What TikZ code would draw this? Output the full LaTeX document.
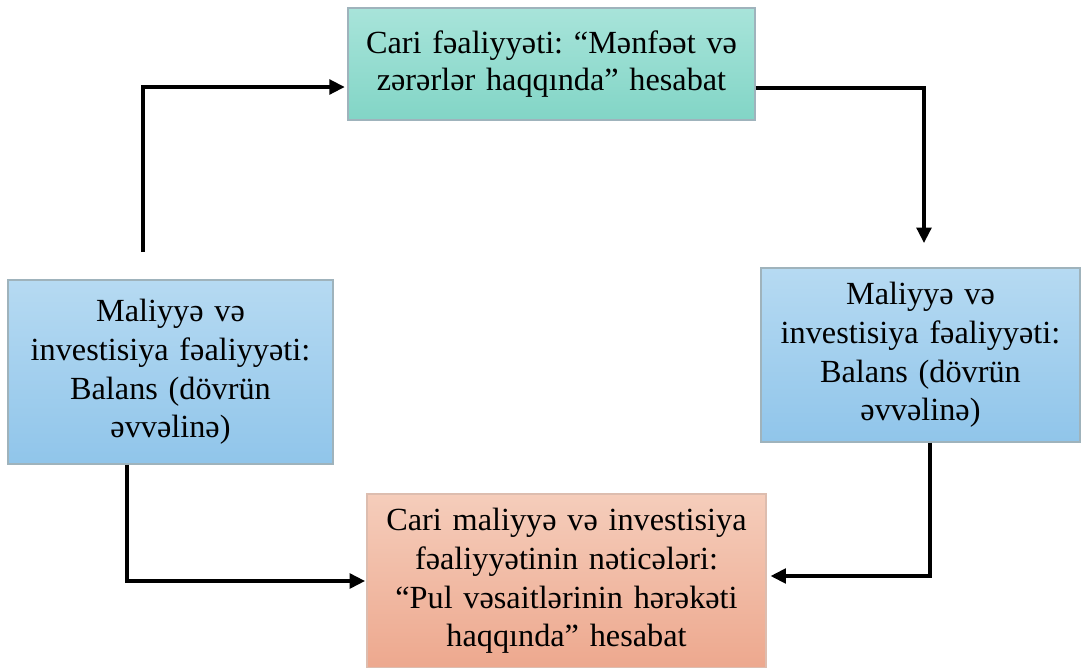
\documentclass[tikz,border=0pt]{standalone}
\usepackage{fontspec}
\setmainfont{Liberation Serif}
\usetikzlibrary{arrows.meta}
\definecolor{tealT}{HTML}{A8E4DA}
\definecolor{tealB}{HTML}{82D5C6}
\definecolor{blueT}{HTML}{B6DAF2}
\definecolor{blueB}{HTML}{90C5EA}
\definecolor{salT}{HTML}{F5CDBB}
\definecolor{salB}{HTML}{EDA88E}
\definecolor{edgegray}{HTML}{9FB3BC}
\tikzset{
  box/.style={draw=edgegray, line width=0.9pt, align=center, inner sep=0pt,
    font=\frenchspacing\fontsize{24.2}{29}\selectfont, text=black},
  conn/.style={line width=2.5pt, -{Triangle[length=11.5pt,width=11pt]}}
}
\begin{document}
\begin{tikzpicture}[x=0.75pt,y=-0.75pt]
\useasboundingbox (0,0) rectangle (1083,668);
\node[box, top color=tealT, bottom color=tealB, minimum width=407*0.75pt, minimum height=112*0.75pt, text width=400*0.75pt] (top) at (551.5,64) {Cari fəaliyyəti: “Mənfəət və\\[-1.5pt] zərərlər haqqında” hesabat\\[2pt]};
\node[box, top color=blueT, bottom color=blueB, minimum width=325*0.75pt, minimum height=184*0.75pt, text width=320*0.75pt] (left) at (170.5,372) {Maliyyə və\\ investisiya fəaliyyəti:\\ Balans (dövrün\\ əvvəlinə)\\[-6pt]};
\node[box, top color=blueT, bottom color=blueB, minimum width=319*0.75pt, minimum height=174*0.75pt, text width=315*0.75pt] (right) at (920.5,355) {Maliyyə və\\ investisiya fəaliyyəti:\\ Balans (dövrün\\ əvvəlinə)};
\node[box, draw=salT!80!gray, top color=salT, bottom color=salB, minimum width=399*0.75pt, minimum height=174*0.75pt, text width=395*0.75pt] (bot) at (566.5,581) {Cari maliyyə və investisiya\\ fəaliyyətinin nəticələri:\\ “Pul vəsaitlərinin hərəkəti\\ haqqında” hesabat\\[-3pt]};
\coordinate (a1) at (143,252);
\coordinate (a2) at (924,243);
\draw[conn, shorten >=2pt] (a1) |- ([yshift=-17.25pt]top.west);
\draw[conn] ([yshift=-18pt]top.east) -| (a2);
\draw[conn, shorten >=1pt] ([xshift=-32.6pt]left.south) |- (bot.west);
\draw[conn, shorten >=3pt] ([xshift=7.1pt]right.south) |- ([yshift=3.75pt]bot.east);
\end{tikzpicture}
\end{document}
